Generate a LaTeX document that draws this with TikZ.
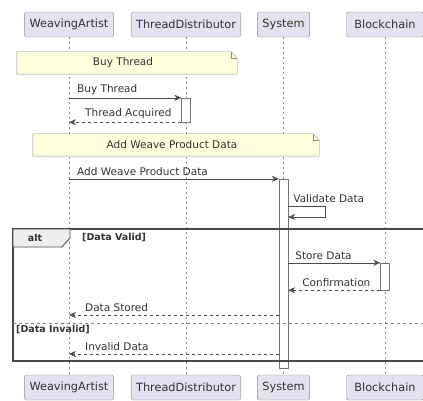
\documentclass[tikz,border=0pt]{standalone}
\usepackage{fontspec}
\setmainfont{DejaVu Sans}
\usepackage{xcolor}
\usetikzlibrary{arrows.meta,positioning}

\definecolor{partfill}{RGB}{226,226,240}
\definecolor{notefill}{RGB}{254,255,221}
\definecolor{tabfill}{RGB}{238,238,238}
\definecolor{ink}{RGB}{50,50,50}

\begin{document}
\begin{tikzpicture}[x=1pt, y=-1pt]
        % Define styles
        \tikzset{
            actor/.style={rectangle, draw=black!45, fill=partfill, rounded corners=1.5pt, minimum height=25pt, inner xsep=5pt, text=ink, font=\fontsize{11.3}{13}\selectfont},
            lifeline/.style={draw=black!45, dash pattern=on 2pt off 3pt},
            act/.style={rectangle, draw=black!55, fill=white, minimum width=9pt, inner sep=0pt},
            note/.style={rectangle, inner sep=0pt, text=ink, font=\fontsize{10.5}{12}\selectfont},
            lbl/.style={text=ink, inner sep=0pt, font=\fontsize{10.5}{12}\selectfont},
            grp/.style={text=ink, inner sep=0pt, font=\bfseries\fontsize{9.5}{11}\selectfont},
            msg/.style={draw=black!70, -{Stealth[length=7pt,width=6pt]}},
            reply/.style={msg, dashed}
        }
        \clip (0,0) rectangle (423,401);
        \useasboundingbox (0,0) rectangle (423,401);

        % Create nodes
        \node [actor] (wa) at (69,24.5) {WeavingArtist};
        \node [actor] (td) at (186,24.5) {ThreadDistributor};
        \node [actor] (sys) at (283.5,24.5) {System};
        \node [actor, minimum width=77pt] (bc) at (385,24.5) {Blockchain};
        \node [actor, below of=wa, node distance=363pt] (wa2) {WeavingArtist};
        \node [actor, below of=td, node distance=363pt] (td2) {ThreadDistributor};
        \node [actor, below of=sys, node distance=363pt] (sys2) {System};
        \node [actor, minimum width=77pt, below of=bc, node distance=363pt] (bc2) {Blockchain};

        % Lifelines
        \draw [lifeline] (wa) -- (wa2);
        \draw [lifeline] (td) -- (td2);
        \draw [lifeline] (sys) -- (sys2);
        \draw [lifeline] (bc) -- (bc2);

        % Notes
        \node [note, minimum width=220pt, minimum height=22pt] (buy) at (127,63) {};
        \node [note, minimum width=286pt, minimum height=22pt] (add) at (176,145) {};
        \foreach \n in {buy, add} {
            \draw [draw=black!45, fill=notefill] (\n.north west) -- ([xshift=-6pt]\n.north east)
                -- ([yshift=-6pt]\n.north east) -- (\n.south east) -- (\n.south west) -- cycle;
            \draw [draw=black!45] ([xshift=-6pt]\n.north east) |- ([yshift=-6pt]\n.north east);
        }
        \node [lbl] (buyt) at (123,63) {Buy Thread};
        \node [lbl] (addt) at (172,145) {Add Weave Product Data};

        % Activations
        \node [act, minimum height=24pt] (act1) at (td |- 0,110) {};
        \node [act, minimum height=189pt] (act2) at (sys |- 0,273.5) {};
        \node [act, minimum height=27pt] (act3) at (bc |- 0,276.5) {};

        % Alt frame
        \draw [draw=ink!90, line width=1.2pt] (13,229) rectangle (440,361);
        \draw [draw=ink!90, fill=tabfill, line width=0.8pt] (13,229) -- (70,229) -- (70,238) -- (62,247) -- (13,247) -- cycle;
        \node [grp] (alt) at (35,238) {alt};
        \node [grp, anchor=west] (valid) at (82,238) {[Data Valid]};
        \coordinate (sepl) at (13,323);
        \coordinate (sepr) at (440,323);
        \draw [draw=black!50, dashed] (sepl) -- (sepr);
        \node [grp, anchor=west] (invalid) at (16,330) {[Data Invalid]};

        % Create arrows
        \draw [msg] (wa |- act1.north west) -- (act1.north west)
            node [lbl, pos=0, anchor=south west, xshift=8pt, yshift=3pt] {Buy Thread};
        \draw [reply] (act1.south west) -- (wa |- act1.south west)
            node [lbl, pos=1, anchor=south west, xshift=16pt, yshift=3pt] {Thread Acquired};
        \draw [msg] (wa |- act2.north west) -- (act2.north west)
            node [lbl, pos=0, anchor=south west, xshift=8pt, yshift=3pt] {Add Weave Product Data};
        \coordinate (selfa) at (act2.east |- 0,206);
        \coordinate (selfb) at (act2.east |- 0,217);
        \draw [msg] (selfa) -- ++(37,0) |- (selfb);
        \node [lbl, anchor=south west] (valt) at ([xshift=5pt, yshift=3pt]selfa) {Validate Data};
        \draw [msg] (act2.east |- act3.north west) -- (act3.north west)
            node [lbl, pos=0, anchor=south west, xshift=7pt, yshift=3pt] {Store Data};
        \draw [reply] (act3.south west) -- (act2.east |- act3.south west)
            node [lbl, pos=1, anchor=south west, xshift=14pt, yshift=3pt] {Confirmation};
        \coordinate (stored) at (act2.west |- 0,315);
        \draw [reply] (stored) -- (wa |- stored)
            node [lbl, pos=1, anchor=south west, xshift=16pt, yshift=3pt] {Data Stored};
        \coordinate (inval) at (act2.west |- 0,354);
        \draw [reply] (inval) -- (wa |- inval)
            node [lbl, pos=1, anchor=south west, xshift=16pt, yshift=3pt] {Invalid Data};
    \end{tikzpicture}
\end{document}
